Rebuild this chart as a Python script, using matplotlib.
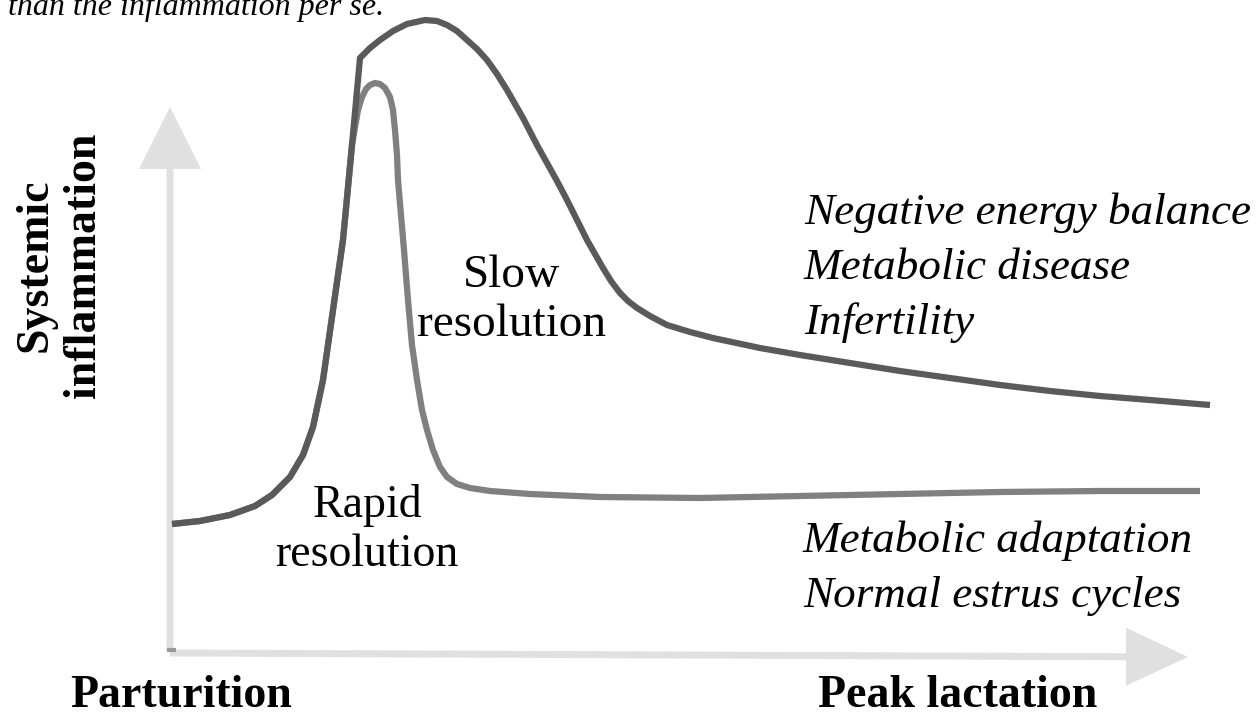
import matplotlib
matplotlib.use("Agg")
import matplotlib.pyplot as plt
from matplotlib.patches import FancyArrow

# curve traces (x, y in image pixels, y down)
slow_x = [172, 200, 230, 255, 272, 290, 303, 313, 323, 333, 343, 352, 360, 370,
          380, 393, 407, 425, 437, 447, 457, 467, 477, 487, 497, 507, 523, 537,
          547, 557, 567, 577, 587, 595, 603, 611, 620, 628, 637, 650, 667, 690,
          713, 760, 800, 850, 900, 950, 1000, 1050, 1100, 1150, 1210]
slow_y = [524, 521, 515, 506, 495, 477, 455, 427, 380, 310, 240, 145, 58, 48,
          40, 31, 24, 20, 21, 25, 31, 40, 49, 60, 74, 90, 118, 145,
          163, 181, 200, 220, 240, 254, 268, 281, 293, 301, 308, 316, 325, 332,
          338, 348, 355, 363, 371, 378, 385, 391, 396, 400, 405]

rapid_x = [172, 200, 230, 255, 272, 290, 303, 313, 323, 333, 343, 352, 358, 362,
           366, 370, 375, 380, 385, 390, 393, 395, 397, 398, 401, 404, 408, 412,
           417, 422, 427, 433, 440, 447, 457, 470, 490, 530, 600, 700, 800, 900,
           1000, 1100, 1200]
rapid_y = [524, 521, 515, 506, 495, 477, 455, 427, 380, 310, 240, 145, 110, 97,
           89, 85, 83, 84, 88, 97, 110, 130, 155, 180, 215, 250, 300, 345,
           380, 410, 430, 450, 467, 477, 484, 488, 491, 494, 497, 498, 496, 494,
           492, 491, 491]

upper_labels = ["Negative energy balance", "Metabolic disease", "Infertility"]
lower_labels = ["Metabolic adaptation", "Normal estrus cycles"]

W, H = 1258, 719
fig = plt.figure(figsize=(W / 100, H / 100), dpi=100)
ax = fig.add_axes([0, 0, 1, 1])
ax.set_xlim(0, W)
ax.set_ylim(H, 0)
ax.axis("off")

serif = "Liberation Serif"
axis_col = "#e0e0e0"

# axis arrows
ax.add_patch(FancyArrow(170, 652, 0, -545, width=7, head_width=62, head_length=62,
                        length_includes_head=True, color=axis_col, lw=0, zorder=1))
ax.add_patch(FancyArrow(170, 653, 1018, 4, width=7, head_width=58, head_length=62,
                        length_includes_head=True, color=axis_col, lw=0, zorder=1))
ax.plot([167, 176], [650, 650], color="#9a9a9a", lw=3, solid_capstyle="butt", zorder=2)

ax.plot(rapid_x, rapid_y, color="#808080", lw=4.5, solid_joinstyle="round",
        solid_capstyle="butt", zorder=3)
ax.plot(slow_x, slow_y, color="#5a5a5a", lw=4.5, solid_joinstyle="round",
        solid_capstyle="butt", zorder=4)

# text
ax.text(8, 7, "than the inflammation per se.", fontsize=23, style="italic",
        family=serif, ha="left", va="center")
ax.text(60, 265, "Systemic\ninflammation", fontsize=33, fontweight="bold", family=serif,
        rotation=90, ha="center", va="center", linespacing=1.2)
ax.text(512, 300, "Slow\nresolution", fontsize=34, family=serif, ha="center",
        va="center", linespacing=1.2)
ax.text(367, 530, "Rapid\nresolution", fontsize=33, family=serif, ha="center",
        va="center", linespacing=1.2)
for i, s in enumerate(upper_labels):
    ax.text(804, 213 + 55 * i, s, fontsize=32.5, style="italic", family=serif,
            ha="left", va="center")
for i, s in enumerate(lower_labels):
    ax.text(803, 541 + 55 * i, s, fontsize=32.5, style="italic", family=serif,
            ha="left", va="center")
ax.text(70, 707, "Parturition", fontsize=33, fontweight="bold", family=serif,
        ha="left", va="baseline")
ax.text(818, 707, "Peak lactation", fontsize=33, fontweight="bold", family=serif,
        ha="left", va="baseline")

fig.savefig("out.png", dpi=100, facecolor="white")
